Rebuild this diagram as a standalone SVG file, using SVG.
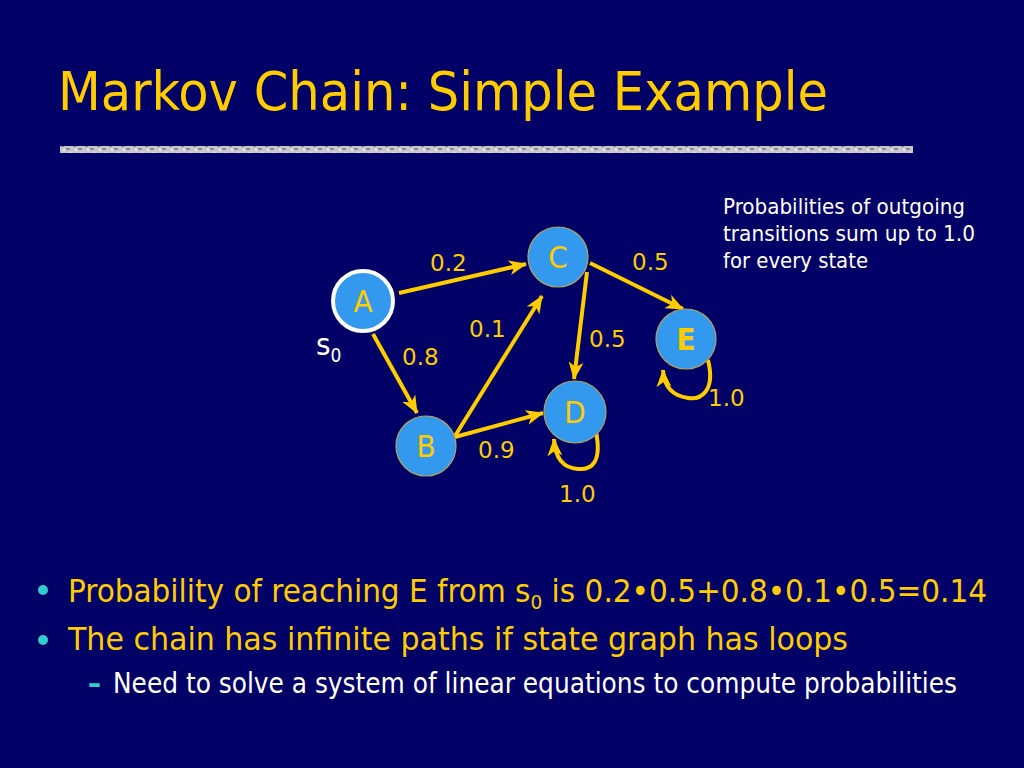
<svg xmlns="http://www.w3.org/2000/svg" width="1024" height="768" viewBox="0 0 1024 768">
<style>
.ttl{font-family:"DejaVu Sans Condensed","DejaVu Sans",sans-serif;font-size:54px;fill:#ffcc00}
.lbl{font-family:"DejaVu Sans",sans-serif;font-size:23px;fill:#ffcc00}
.nt{font-family:"DejaVu Sans Condensed","DejaVu Sans",sans-serif;font-size:31px;fill:#ffcc00;text-anchor:middle}
.note{font-family:"DejaVu Sans Condensed","DejaVu Sans",sans-serif;font-size:21px;fill:#ffffff}
.b1{font-family:"DejaVu Sans Condensed","DejaVu Sans",sans-serif;font-size:32px;fill:#ffcc00}
.b2{font-family:"DejaVu Sans Condensed","DejaVu Sans",sans-serif;font-size:28px;fill:#ffffff}
.node{fill:#3399ee;stroke:#b3a35a;stroke-width:1.2}
.edge{fill:none;stroke:#ffcc00;stroke-width:4}
</style>
<defs>
<marker id="ah" markerUnits="userSpaceOnUse" markerWidth="18" markerHeight="15" refX="17" refY="7.5" orient="auto">
<path d="M0,0 L18,7.5 L0,15 L5,7.5 Z" fill="#ffcc00"/>
</marker>
<pattern id="grain" width="12" height="8" patternUnits="userSpaceOnUse">
<rect width="12" height="8" fill="#c8c8cc"/>
<rect x="1" y="1" width="3" height="2" fill="#808088"/>
<rect x="6" y="4" width="4" height="2" fill="#8c8c94"/>
<rect x="9" y="0" width="2" height="2" fill="#e8e8ec"/>
<rect x="3" y="5" width="2" height="2" fill="#eeeeee"/>
</pattern>
</defs>
<rect width="1024" height="768" fill="#000066"/>
<text class="ttl" x="58" y="110" textLength="770" lengthAdjust="spacingAndGlyphs">Markov Chain: Simple Example</text>
<rect x="60" y="146" width="853" height="7" fill="url(#grain)"/>

<g id="connectors">
<path class="edge" d="M399,293 L526,264" marker-end="url(#ah)"/>
<path class="edge" d="M373,334 L417,413" marker-end="url(#ah)"/>
<path class="edge" d="M455,436 L542,296" marker-end="url(#ah)"/>
<path class="edge" d="M455,437 L543,413" marker-end="url(#ah)"/>
<path class="edge" d="M587,272 L574,379" marker-end="url(#ah)"/>
<path class="edge" d="M590,263 L683,309" marker-end="url(#ah)"/>
<path class="edge" d="M596,432 C602,462 592,470 578,469 C563,468 555,458 554,439" marker-end="url(#ah)"/>
<path class="edge" d="M708,360 C716,392 700,400 688,398 C674,396 664,388 663,370" marker-end="url(#ah)"/>
<text class="lbl" x="430" y="271">0.2</text>
<text class="lbl" x="632" y="270">0.5</text>
<text class="lbl" x="469" y="337">0.1</text>
<text class="lbl" x="589" y="347">0.5</text>
<text class="lbl" x="402" y="365">0.8</text>
<text class="lbl" x="478" y="458">0.9</text>
<text class="lbl" x="559" y="502">1.0</text>
<text class="lbl" x="708" y="406">1.0</text>
</g>

<g id="node-A">
<circle cx="363" cy="301" r="30" fill="#3399ee" stroke="#ffffff" stroke-width="4"/>
<text class="nt" x="363" y="312">A</text>
</g>
<g id="node-C">
<circle class="node" cx="558" cy="257" r="30"/>
<text class="nt" x="558" y="268">C</text>
</g>
<g id="node-E">
<circle class="node" cx="686" cy="339" r="30"/>
<text class="nt" x="686" y="350" style="font-weight:bold">E</text>
</g>
<g id="node-D">
<circle class="node" cx="575" cy="412" r="31"/>
<text class="nt" x="575" y="423">D</text>
</g>
<g id="node-B">
<circle class="node" cx="426" cy="446" r="30"/>
<text class="nt" x="426" y="457">B</text>
</g>
<text x="316" y="355" style="font-family:'DejaVu Sans Condensed','DejaVu Sans',sans-serif;font-size:31px;fill:#ffffff">s<tspan dy="7" style="font-size:19px">0</tspan></text>

<text class="note" x="723" y="214" textLength="242" lengthAdjust="spacingAndGlyphs">Probabilities of outgoing</text>
<text class="note" x="723" y="241" textLength="252" lengthAdjust="spacingAndGlyphs">transitions sum up to 1.0</text>
<text class="note" x="723" y="268" textLength="145" lengthAdjust="spacingAndGlyphs">for every state</text>

<circle cx="43" cy="590" r="5" fill="#33cccc"/>
<text class="b1" x="68" y="602" textLength="919" lengthAdjust="spacingAndGlyphs">Probability of reaching E from s<tspan dy="7" style="font-size:20px">0</tspan><tspan dy="-7"> is 0.2•0.5+0.8•0.1•0.5=0.14</tspan></text>
<circle cx="43" cy="640" r="5" fill="#33cccc"/>
<text class="b1" x="68" y="650" textLength="780" lengthAdjust="spacingAndGlyphs">The chain has infinite paths if state graph has loops</text>
<text x="88" y="693" textLength="13" lengthAdjust="spacingAndGlyphs" style="font-family:'DejaVu Sans Condensed','DejaVu Sans',sans-serif;font-size:30px;font-weight:bold;fill:#33cccc">–</text>
<text class="b2" x="113" y="693" textLength="844" lengthAdjust="spacingAndGlyphs">Need to solve a system of linear equations to compute probabilities</text>
</svg>
